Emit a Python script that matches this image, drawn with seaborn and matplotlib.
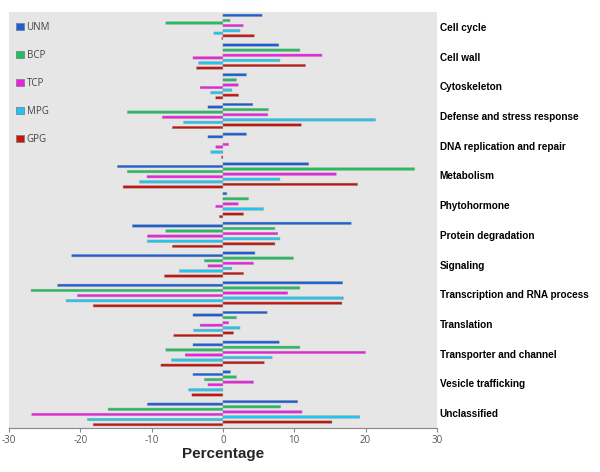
import numpy as np
import pandas as pd
import matplotlib
matplotlib.use("Agg")
import matplotlib.pyplot as plt
from matplotlib.patches import Patch
import seaborn as sns

nan = np.nan

categories = ["Cell cycle", "Cell wall", "Cytoskeleton", "Defense and stress response",
              "DNA replication and repair", "Metabolism", "Phytohormone",
              "Protein degradation", "Signaling", "Transcription and RNA process",
              "Translation", "Transporter and channel", "Vesicle trafficking", "Unclassified"]

series = ["UNM", "BCP", "TCP", "MPG", "GPG"]

UNM_up = [5.5, 7.85, 3.3, 4.2, 3.3, 12.05, 0.56, 18.0, 4.5, 16.8, 6.2, 7.9, 1.07, 10.5]
UNM_down = [nan, nan, nan, -2.1, -2.1, -14.8, nan, -12.7, -21.2, -23.2, -4.2, -4.2, -4.2, -10.6]
BCP_up = [1.0, 10.8, 1.9, 6.4, nan, 26.9, 3.6, 7.3, 9.9, 10.8, 1.9, 10.8, 1.9, 8.1]
BCP_down = [-8.0, nan, nan, -13.4, nan, -13.4, nan, -8.0, -2.6, -26.9, nan, -8.0, -2.6, -16.1]
TCP_up = [2.85, 13.9, 2.15, 6.3, 0.8, 15.9, 2.15, 7.7, 4.3, 9.1, 0.8, 20.0, 4.3, 11.1]
TCP_down = [nan, -4.2, -3.2, -8.5, -1.0, -10.65, -1.0, -10.6, -2.1, -20.4, -3.2, -5.3, -2.1, -26.8]
MPG_up = [2.4, 8.0, 1.26, 21.4, nan, 8.0, 5.7, 8.0, 1.26, 16.9, 2.4, 6.9, nan, 19.2]
MPG_down = [-1.26, -3.4, -1.7, -5.5, -1.7, -11.7, nan, -10.6, -6.1, -22.0, -4.1, -7.2, -4.8, -19.0]
GPG_up = [4.4, 11.6, 2.2, 11.0, nan, 18.9, 2.9, 7.3, 2.9, 16.7, 1.5, 5.8, nan, 15.3]
GPG_down = [-0.15, -3.7, -1.0, -7.1, -0.2, -14.0, -0.5, -7.1, -8.2, -18.2, -6.9, -8.7, -4.35, -18.2]

x_ticks = [-30, -20, -10, 0, 10, 20, 30]

colors = {"UNM": "#1a5fd8", "BCP": "#1fbf5e", "TCP": "#ee20e4",
          "MPG": "#1fc6f2", "GPG": "#c2160f"}

data_map = {
    "UNM": (UNM_up, UNM_down), "BCP": (BCP_up, BCP_down), "TCP": (TCP_up, TCP_down),
    "MPG": (MPG_up, MPG_down), "GPG": (GPG_up, GPG_down),
}

rows = []
hue_order = []
palette = {}
for s in series:
    up, down = data_map[s]
    for tag, vals in (("up", up), ("down", down)):
        key = f"{s} {tag}"
        hue_order.append(key)
        palette[key] = colors[s]
        for c, v in zip(categories, vals):
            if not np.isnan(v):
                rows.append({"category": c, "group": key, "value": v})
df = pd.DataFrame(rows)

sns.set_theme(style="white")
plt.rcParams["font.family"] = ["Liberation Sans", "DejaVu Sans"]

fig = plt.figure(figsize=(6.0, 4.72), dpi=100)
ax = fig.add_axes([0.015, 0.0932, 0.713, 0.8814])
ax.set_facecolor("#e6e6e6")

sns.barplot(data=df, y="category", x="value", hue="group", order=categories,
            hue_order=hue_order, palette=palette, orient="h", width=0.86,
            saturation=1, dodge=True, errorbar=None,
            edgecolor="#9a9a9a", linewidth=0.3, legend=False, ax=ax)
for p in ax.patches:
    p.set_snap(False)

ax.set_xlim(-30, 30)
ax.set_ylim(len(categories) - 0.5, -0.5)
ax.set_xticks(x_ticks)
ax.set_xticklabels([str(t) for t in x_ticks], fontsize=7, color="#555555",
                   family=["Open Sans", "DejaVu Sans"])
ax.tick_params(axis="x", direction="out", length=3, width=0.8, color="#888888", pad=2,
               bottom=True)

ax.yaxis.tick_right()
ax.tick_params(axis="y", length=0, pad=2)
for lab in ax.get_yticklabels():
    lab.set_fontweight("bold")
    lab.set_fontsize(7.2)
    lab.set_color("black")
ax.set_ylabel("")
ax.set_xlabel("Percentage", fontsize=11, fontweight="bold", labelpad=1)

for side in ("top", "right", "left"):
    ax.spines[side].set_visible(False)
ax.spines["bottom"].set_color("#888888")
ax.spines["bottom"].set_linewidth(0.8)

handles = [Patch(facecolor=colors[s], edgecolor="#777777", linewidth=0.5, label=s)
           for s in series]
leg = ax.legend(handles=handles, loc="upper left", bbox_to_anchor=(0.008, 0.985),
                frameon=False, labelspacing=1.75, handlelength=0.75,
                handleheight=0.75, handletextpad=0.3, borderaxespad=0,
                prop={"family": ["Open Sans", "DejaVu Sans"], "size": 7})
for t in leg.get_texts():
    t.set_color("#444444")

fig.savefig("out.png", dpi=100)
